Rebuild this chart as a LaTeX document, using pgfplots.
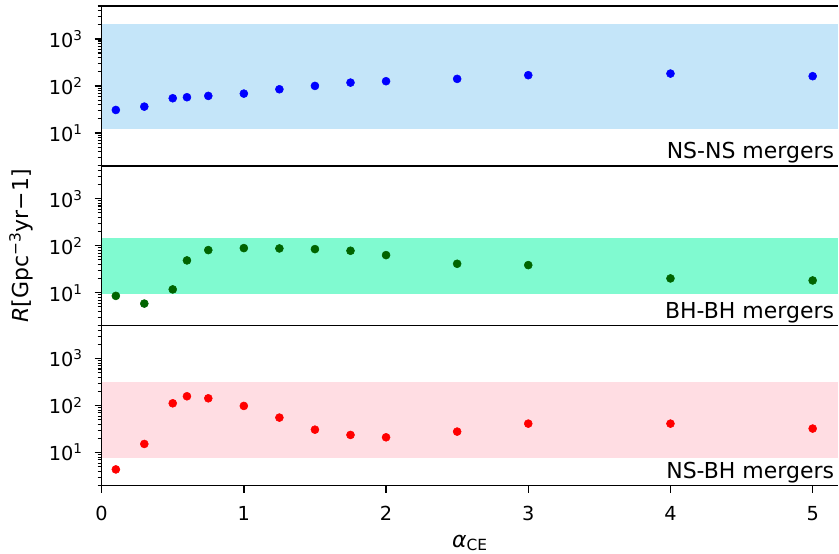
\documentclass[border=0pt]{standalone}
\usepackage{fontspec}
\setmainfont{DejaVu Sans}
\usepackage{pgfplots}
\usepackage{pgfplotstable}
\pgfplotsset{compat=1.18}
\usepgfplotslibrary{groupplots}
\definecolor{nsnsband}{HTML}{C4E5F9}
\definecolor{bhbhband}{HTML}{80FAD0}
\definecolor{nsbhband}{HTML}{FFDDE3}
\definecolor{bhbhdot}{RGB}{0,100,0}

% merger rates vs alpha_CE
\pgfplotstableread{
a     nsns   bhbh   nsbh
0.10  30.8   8.6    4.4
0.30  36.3   5.9    15.3
0.50  54.7   11.8   112
0.60  57.5   48.8   158
0.75  61.3   80.9   143
1.00  68.6   89.2   98.4
1.25  84.9   87.7   55.6
1.50  100    84.9   30.8
1.75  117.6  78.3   23.8
2.00  125.9  63.3   21.2
2.50  141    41.4   28.0
3.00  169    38.8   41.4
4.00  183    20.2   41.4
5.00  161    18.3   32.5
}\rates

\begin{document}
\begin{tikzpicture}[font=\fontsize{16.5}{19}\selectfont]
\begin{groupplot}[
  group style={group size=1 by 3, vertical sep=0pt},
  width=553pt, height=120pt, scale only axis,
  /pgf/number format/assume math mode=true,
  xmin=0, xmax=5.18,
  ymode=log, ymin=2, ymax=5000,
  axis y line*=left, y axis line style={-},
  xtick={0,1,2,3,4,5}, xtick pos=left,
  ytick={10,100,1000},
  yticklabels={10\textsuperscript{1},10\textsuperscript{2},10\textsuperscript{3}},
  minor ytick={2,3,4,5,6,7,8,9,20,30,40,50,60,70,80,90,200,300,400,500,600,700,800,900,2000,3000,4000,5000},
  tick align=outside,
  major tick length=5.25pt, minor tick length=3pt,
  every major tick/.style={black, line width=1pt},
  every minor tick/.style={black, line width=0.8pt},
  axis line style={line width=1.1pt},
  tick label style={font=\fontsize{14.5}{17}\selectfont, inner sep=0pt},
  xticklabel style={anchor=north},
  yticklabel style={anchor=east},
  xticklabel shift=10pt, yticklabel shift=8.75pt,
  ylabel style={at={([xshift=-51pt]rel axis cs:0,0.5)}, anchor=south, inner sep=0pt},
  xlabel style={at={([yshift=-46.5pt]rel axis cs:0.5,0)}, anchor=base, inner sep=0pt},
  clip=false,
]
\nextgroupplot[xtick=\empty]
\coordinate (tl) at (rel axis cs:0,1);
\addplot[fill=nsnsband, draw=none] coordinates {(0,12.4) (5.18,12.4) (5.18,2085) (0,2085)} -- cycle;
\addplot[only marks, mark=*, mark size=3pt, color=blue] table[x=a, y=nsns] {\rates};
\node[anchor=base east, inner sep=0pt] at ([xshift=-3pt, yshift=5.3pt]rel axis cs:1,0) {NS-NS mergers};

\nextgroupplot[xtick=\empty, ylabel={{\itshape R}[Gpc\textsuperscript{−3}yr−1]}]
\addplot[fill=bhbhband, draw=none] coordinates {(0,9.5) (5.18,9.5) (5.18,148) (0,148)} -- cycle;
\addplot[only marks, mark=*, mark size=3pt, color=bhbhdot] table[x=a, y=bhbh] {\rates};
\node[anchor=base east, inner sep=0pt] at ([xshift=-3pt, yshift=5.3pt]rel axis cs:1,0) {BH-BH mergers};

\nextgroupplot[xlabel={{\itshape α}\textsubscript{CE}}]
\coordinate (bl) at (rel axis cs:0,0);
\addplot[fill=nsbhband, draw=none] coordinates {(0,7.6) (5.18,7.6) (5.18,325) (0,325)} -- cycle;
\addplot[only marks, mark=*, mark size=3pt, color=red] table[x=a, y=nsbh] {\rates};
\node[anchor=base east, inner sep=0pt] at ([xshift=-3pt, yshift=5.3pt]rel axis cs:1,0) {NS-BH mergers};
\end{groupplot}
\path (tl) ++(-76.3pt,4.5pt);
\path (bl) ++(0,-51pt);
\end{tikzpicture}
\end{document}
